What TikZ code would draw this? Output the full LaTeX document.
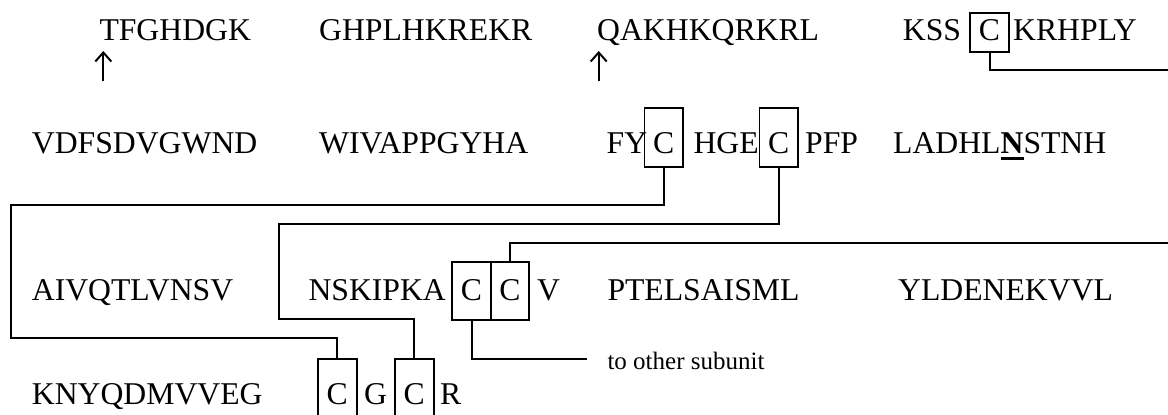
\documentclass[tikz,border=0pt]{standalone}
\usepackage{fontspec}
\setmainfont{Liberation Serif}
\usetikzlibrary{calc,arrows.meta}
\newcommand\boldul[1]{\vtop{\hbox{\bfseries #1}\kern3.8pt\hrule height 3pt}}
\begin{document}
\begin{tikzpicture}[x=1pt,y=-1pt,
  seq/.style={anchor=base west,inner sep=0pt,font=\fontsize{31.7}{38}\selectfont},
  cbox/.style={draw,anchor=base,inner sep=0pt,line width=1.9pt,font=\fontsize{31.7}{38}\selectfont},
  cboxa/.style={cbox,text height=27.8pt,text depth=11.5pt,minimum width=38.7pt},
  cboxb/.style={cbox,text height=44.7pt,text depth=13.7pt,minimum width=38.5pt},
  cboxc/.style={cbox,text height=37.7pt,text depth=20pt,minimum width=38.4pt},
  cboxd/.style={cbox,text height=45pt,text depth=25pt,minimum width=38.8pt},
  conn/.style={line width=2pt},
  uparr/.style={line width=2pt,-{Straight Barb[length=9pt,width=16pt]}},
  note/.style={anchor=base west,inner sep=0pt,font=\fontsize{25}{30}\selectfont}]
\useasboundingbox (0,0) rectangle (1168,415);
% row 1
\node[seq] (r1a) at (99.3,40.5) {TFGHDGK};
\node[seq] (r1b) at (319,40.5) {GHPLHKREKR};
\node[seq] (r1c) at (597,40.5) {QAKHKQRKRL};
\node[seq] (r1d) at (902.7,40.5) {KSS};
\node[cboxa] (c1) at (989.5,40.5) {C};
\node[seq] (r1e) at (1013,40.5) {KRHPLY};
% row 2
\node[seq] (r2a) at (31.7,153) {VDFSDVGWND};
\node[seq] (r2b) at (319,153) {WIVAPPGYHA};
\node[seq] (r2c) at (606.5,153) {FY};
\node[cboxb] (c21) at (663.7,153) {C};
\node[seq] (r2d) at (693.3,153) {HGE};
\node[cboxb] (c22) at (778.7,153) {C};
\node[seq] (r2e) at (805,153) {PFP};
\node[seq] (r2f) at (893,153) {LADHL\boldul{N}STNH};
% row 3
\node[seq] (r3a) at (31.7,300) {AIVQTLVNSV};
\node[seq] (r3b) at (308.3,300) {NSKIPKA};
\node[cboxc] (c31) at (471.5,300) {C};
\node[cboxc] (c32) at (509.9,300) {C};
\node[seq] (r3c) at (537,300) {V};
\node[seq] (r3d) at (607.3,300) {PTELSAISML};
\node[seq] (r3e) at (898,300) {YLDENEKVVL};
% row 4
\node[seq] (r4a) at (31.7,404) {KNYQDMVVEG};
\node[cboxd] (c41) at (337.2,404) {C};
\node[seq] (r4b) at (364,404) {G};
\node[cboxd] (c42) at (414.2,404) {C};
\node[seq] (r4c) at (440,404) {R};
\node[note] (lab) at (607.3,369) {to other subunit};
% arrows
\draw[uparr] (103.3,81) -- (103.3,51);
\draw[uparr] (598.7,81) -- (598.7,51);
% connectors
\coordinate (e1) at (1168,70.3);
\draw[conn] (c1.south) |- (e1);
\draw[conn] (c21.south) |- (10.7,205) |- ($(c41.north)+(0,-19.7)$) -- (c41.north);
\draw[conn] (c22.south) |- (279.3,224) |- ($(c42.north)+(0,-39)$) -- (c42.north);
\coordinate (e2) at (1168,242.7);
\draw[conn] (c32.north) |- (e2);
\coordinate (e3) at (586.7,358.5);
\draw[conn] (c31.south) |- (e3);
\end{tikzpicture}
\end{document}
